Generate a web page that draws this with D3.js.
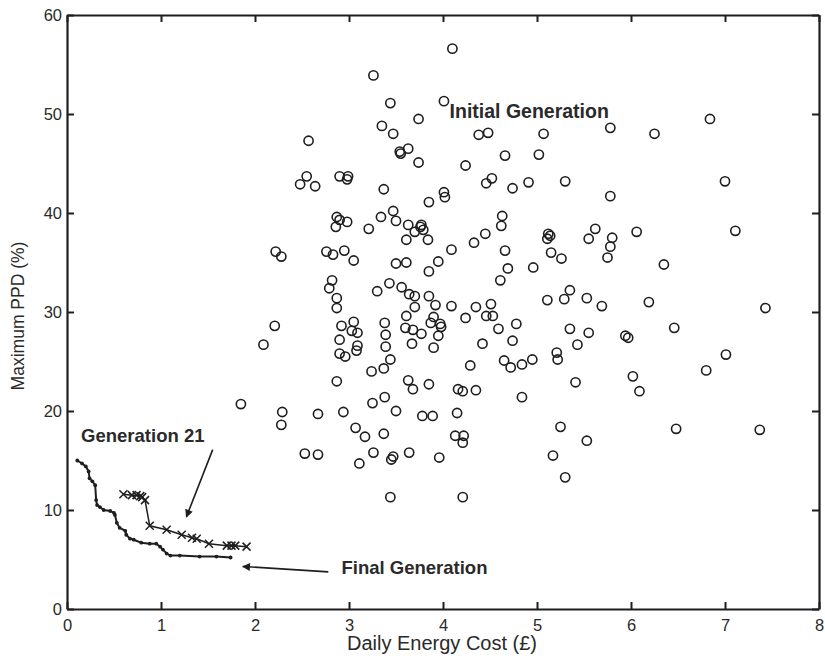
<!DOCTYPE html>
<html>
<head>
<meta charset="utf-8">
<script src="https://cdn.jsdelivr.net/npm/d3@7"></script>
<style>
  html, body { margin: 0; padding: 0; background: #fff; }
  svg { display: block; }
  text { font-family: "Liberation Sans", Arial, sans-serif; fill: #2a2a2a; }
</style>
</head>
<body>
<svg id="chart" width="825" height="666"></svg>
<script>
// ---- Data ----
const xTicks = [0, 1, 2, 3, 4, 5, 6, 7, 8];
const yTicks = [0, 10, 20, 30, 40, 50, 60];

// Initial generation: daily energy cost (£)
const initCost = [
  4.10, 3.26, 3.44, 4.01, 3.74, 3.35, 3.47, 4.38, 4.48, 2.57,
  3.54, 3.63, 3.55, 3.74, 4.66, 4.24, 2.55, 2.48, 2.64, 2.90,
  2.99, 2.98, 3.37, 3.85, 4.01, 4.02, 4.52, 4.46, 4.74, 4.91,
  5.07, 5.78, 6.25, 6.84, 5.02, 5.30, 7.00, 5.78, 2.87, 2.90,
  2.98, 2.86, 3.21, 3.34, 3.47, 3.50, 3.63, 3.70, 3.76, 3.61,
  2.22, 2.28, 2.76, 2.83, 2.95, 3.05, 3.50, 3.61, 2.82, 2.79,
  2.87, 2.87, 3.30, 3.43, 3.56, 3.64, 3.70, 3.70, 2.21, 2.92,
  3.05, 3.03, 3.09, 3.38, 3.39, 3.61, 3.60, 3.68, 2.09, 2.90,
  4.63, 4.62, 4.45, 4.33, 4.09, 3.77, 3.79, 3.84, 3.95, 3.85,
  4.66, 4.69, 4.61, 4.96, 5.12, 5.14, 5.11, 5.15, 5.26, 5.55,
  5.62, 5.80, 5.78, 5.75, 6.06, 5.35, 5.29, 5.11, 5.53, 5.69,
  6.19, 3.85, 3.92, 4.09, 4.35, 4.24, 4.51, 4.46, 4.53, 3.90,
  3.87, 3.97, 3.98, 3.77, 3.95, 4.78, 4.59, 5.35, 5.55, 5.94,
  5.97, 7.11, 6.35, 7.43, 6.46, 7.01, 6.80, 6.48, 7.37,
  3.09, 3.08, 2.90, 2.96, 3.39, 3.67, 3.44, 3.37, 3.24, 2.87,
  3.63, 3.68, 1.85, 2.29, 2.28, 2.67, 2.94, 3.25, 3.38, 3.50,
  3.07, 3.17, 3.37, 2.53, 2.67, 3.11, 3.26, 3.47, 3.45, 3.64,
  3.44, 3.90, 4.42, 4.74, 4.29, 4.65, 4.72, 4.84, 4.95, 5.21,
  5.22, 5.43, 3.85, 4.16, 4.21, 4.35, 4.84, 5.41, 6.02, 6.09,
  3.78, 3.89, 4.15, 4.13, 4.22, 4.21, 3.96, 5.25, 5.53, 5.17,
  5.30, 4.21
];
// Initial generation: maximum PPD (%)
const initPPD = [
  56.6, 53.9, 51.1, 51.3, 49.5, 48.8, 48.0, 47.9, 48.1, 47.3,
  46.2, 46.5, 46.0, 45.1, 45.8, 44.8, 43.7, 42.9, 42.7, 43.7,
  43.7, 43.4, 42.4, 41.1, 42.1, 41.6, 43.5, 43.0, 42.5, 43.1,
  48.0, 48.6, 48.0, 49.5, 45.9, 43.2, 43.2, 41.7, 39.6, 39.3,
  39.1, 38.6, 38.4, 39.6, 40.2, 39.2, 38.8, 38.1, 38.6, 37.3,
  36.1, 35.6, 36.1, 35.8, 36.2, 35.2, 34.9, 35.0, 33.2, 32.4,
  31.4, 30.4, 32.1, 32.9, 32.5, 31.8, 31.6, 30.5, 28.6, 28.6,
  29.0, 28.1, 27.9, 28.9, 27.7, 29.6, 28.4, 28.2, 26.7, 27.2,
  39.7, 38.7, 37.9, 37.0, 36.3, 38.8, 38.3, 37.3, 35.1, 34.1,
  36.2, 34.4, 33.2, 34.5, 37.9, 37.7, 37.4, 36.0, 35.4, 37.4,
  38.4, 37.5, 36.6, 35.5, 38.1, 32.2, 31.3, 31.2, 31.4, 30.6,
  31.0, 31.6, 30.7, 30.6, 30.5, 29.4, 30.8, 29.6, 29.6, 29.5,
  28.9, 28.8, 28.5, 27.8, 27.6, 28.8, 28.3, 28.3, 27.9, 27.6,
  27.4, 38.2, 34.8, 30.4, 28.4, 25.7, 24.1, 18.2, 18.1,
  26.6, 26.1, 25.8, 25.5, 26.5, 26.8, 25.2, 24.3, 24.0, 23.0,
  23.1, 22.2, 20.7, 19.9, 18.6, 19.7, 19.9, 20.8, 21.4, 20.0,
  18.3, 17.4, 17.7, 15.7, 15.6, 14.7, 15.8, 15.4, 15.1, 15.8,
  11.3, 26.4, 26.8, 27.1, 24.6, 25.1, 24.4, 24.7, 25.2, 25.9,
  25.2, 26.7, 22.7, 22.2, 22.0, 22.1, 21.4, 22.9, 23.5, 22.0,
  19.5, 19.5, 19.8, 17.5, 17.5, 16.8, 15.3, 18.4, 17.0, 15.5,
  13.3, 11.3
];

// Generation 21 front
const gen21Cost = [0.60, 0.69, 0.74, 0.78, 0.80, 0.83, 0.88, 1.06, 1.22, 1.33, 1.38, 1.51, 1.70, 1.75, 1.79, 1.91];
const gen21PPD  = [11.6, 11.5, 11.5, 11.4, 11.3, 11.0, 8.4, 8.0, 7.5, 7.2, 7.1, 6.6, 6.4, 6.4, 6.4, 6.3];

// Final generation front
const finalCost = [0.11, 0.16, 0.20, 0.23, 0.24, 0.27, 0.30, 0.31, 0.32, 0.35, 0.39, 0.46, 0.50, 0.51, 0.53, 0.56, 0.62, 0.63, 0.67, 0.71, 0.79, 0.88, 0.95, 0.99, 1.02, 1.06, 1.10, 1.20, 1.41, 1.59, 1.74];
const finalPPD  = [15.0, 14.7, 14.4, 13.9, 13.2, 12.9, 12.5, 11.0, 10.5, 10.3, 10.0, 9.9, 9.7, 9.5, 8.7, 8.2, 7.9, 7.5, 7.1, 7.0, 6.7, 6.6, 6.6, 6.3, 6.0, 5.6, 5.4, 5.4, 5.3, 5.3, 5.2];

// Annotations (data coordinates)
const labels = [
  { text: "Initial Generation", x: 4.07, y: 49.6 },
  { text: "Generation 21",      x: 0.15, y: 16.9 },
  { text: "Final Generation",   x: 2.92, y: 3.55 }
];
const arrows = [
  { x1: 1.55, y1: 16.1, x2: 1.27, y2: 9.3 },
  { x1: 2.78, y1: 3.75, x2: 1.87, y2: 4.3 }
];

// ---- Drawing ----
const svg = d3.select("#chart");
const W = 825, H = 666;
const mLeft = 67, mRight = 819, mTop = 15, mBottom = 609;
const x = d3.scaleLinear().domain([0, 8]).range([mLeft, mRight]);
const y = d3.scaleLinear().domain([0, 60]).range([mBottom, mTop]);
const ink = "#1e1e1e";

svg.append("rect").attr("width", W).attr("height", H).attr("fill", "#fff");

// axes
const axB = svg.append("g").attr("transform", `translate(0,${mBottom})`)
  .call(d3.axisBottom(x).tickValues(xTicks).tickFormat(d3.format("d")).tickSizeInner(-7).tickSizeOuter(0).tickPadding(10));
const axT = svg.append("g").attr("transform", `translate(0,${mTop})`)
  .call(d3.axisTop(x).tickValues(xTicks).tickFormat("").tickSizeInner(-7).tickSizeOuter(0));
const axL = svg.append("g").attr("transform", `translate(${mLeft},0)`)
  .call(d3.axisLeft(y).tickValues(yTicks).tickFormat(d3.format("d")).tickSizeInner(-7).tickSizeOuter(0).tickPadding(5));
const axR = svg.append("g").attr("transform", `translate(${mRight},0)`)
  .call(d3.axisRight(y).tickValues(yTicks).tickFormat("").tickSizeInner(-7).tickSizeOuter(0));

[axB, axT, axL, axR].forEach(g => {
  g.select(".domain").attr("stroke", ink).attr("stroke-width", 2.2);
  g.selectAll(".tick line").attr("stroke", ink).attr("stroke-width", 2);
  g.selectAll(".tick text").style("font-family", '"Liberation Sans", Arial, sans-serif')
    .style("font-size", "16.5px").attr("fill", "#333");
});

// axis titles
svg.append("text")
  .attr("x", (mLeft + mRight) / 2 - 1).attr("y", 650)
  .attr("text-anchor", "middle")
  .style("font-size", "20px").attr("fill", "#333")
  .text("Daily Energy Cost (£)");
svg.append("text")
  .attr("transform", `translate(24,${(mTop + mBottom) / 2 + 4}) rotate(-90)`)
  .attr("text-anchor", "middle")
  .style("font-size", "17.5px").attr("fill", "#333")
  .text("Maximum PPD (%)");

// initial generation circles
const initData = initCost.map((c, i) => ({ c, p: initPPD[i] }));
svg.append("g").selectAll("circle").data(initData).join("circle")
  .attr("cx", d => x(d.c)).attr("cy", d => y(d.p)).attr("r", 4.6)
  .attr("fill", "none").attr("stroke", ink).attr("stroke-width", 1.6);

// final generation line
const finalData = finalCost.map((c, i) => ({ c, p: finalPPD[i] }));
const line = d3.line().x(d => x(d.c)).y(d => y(d.p));
svg.append("path").datum(finalData).attr("d", line)
  .attr("fill", "none").attr("stroke", ink).attr("stroke-width", 2);
svg.append("g").selectAll("circle").data(finalData).join("circle")
  .attr("cx", d => x(d.c)).attr("cy", d => y(d.p)).attr("r", 1.9).attr("fill", ink);

// generation 21 line with x markers
const g21Data = gen21Cost.map((c, i) => ({ c, p: gen21PPD[i] }));
svg.append("path").datum(g21Data).attr("d", line)
  .attr("fill", "none").attr("stroke", ink).attr("stroke-width", 1.5);
svg.append("g").selectAll("path").data(g21Data).join("path")
  .attr("d", d => {
    const cx = x(d.c), cy = y(d.p), s = 4;
    return `M${cx - s},${cy - s}L${cx + s},${cy + s}M${cx - s},${cy + s}L${cx + s},${cy - s}`;
  })
  .attr("stroke", ink).attr("stroke-width", 1.5).attr("fill", "none");

// arrows
svg.append("defs").append("marker")
  .attr("id", "ah").attr("viewBox", "0 0 10 10").attr("refX", 9).attr("refY", 5)
  .attr("markerWidth", 12).attr("markerHeight", 8).attr("markerUnits", "userSpaceOnUse")
  .attr("orient", "auto")
  .append("path").attr("d", "M0,0L10,5L0,10Z").attr("fill", ink);
svg.append("g").selectAll("line").data(arrows).join("line")
  .attr("x1", d => x(d.x1)).attr("y1", d => y(d.y1))
  .attr("x2", d => x(d.x2)).attr("y2", d => y(d.y2))
  .attr("stroke", ink).attr("stroke-width", 1.6).attr("marker-end", "url(#ah)");

// labels
svg.append("g").selectAll("text").data(labels).join("text")
  .attr("x", d => x(d.x)).attr("y", d => y(d.y))
  .style("font-size", d => d.text === "Initial Generation" ? "19.5px" : "18.5px")
  .style("font-weight", "bold").attr("fill", "#2a2a2a")
  .text(d => d.text);
</script>
</body>
</html>
